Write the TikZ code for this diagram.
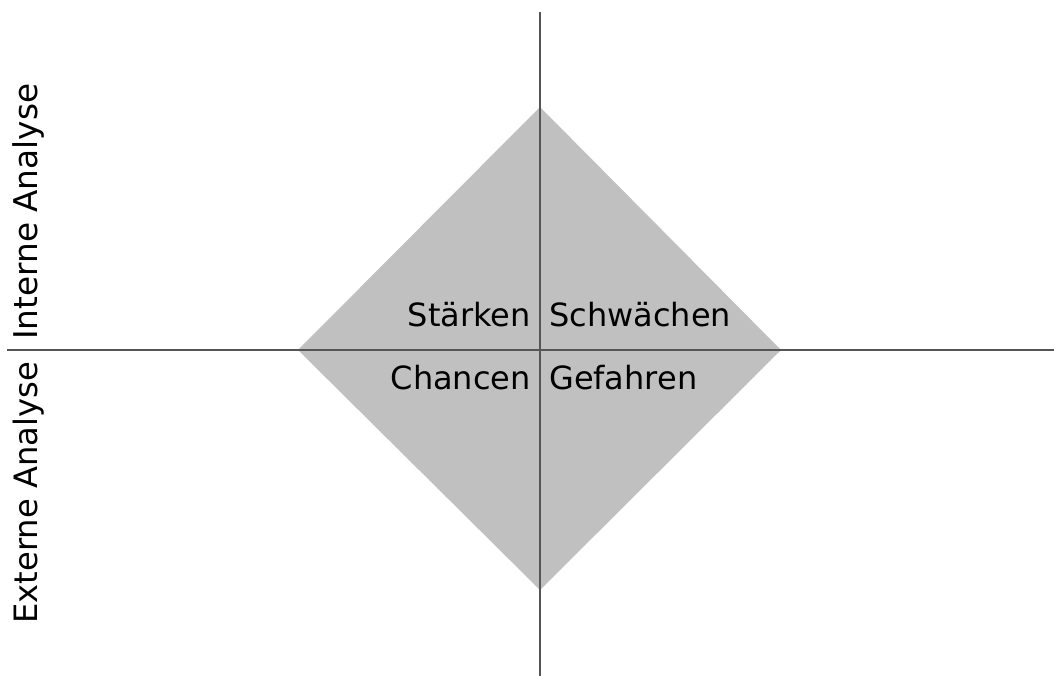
\documentclass[tikz,border=0pt]{standalone}
\usepackage{fontspec}
\setmainfont{DejaVu Sans}
\definecolor{AxisGray}{HTML}{555555}
\definecolor{FieldGray}{HTML}{C0C0C0}
\tikzset{axis/.style={draw=AxisGray,line width=1.2pt},field/.style={fill=FieldGray,draw=none},lbl/.style={inner sep=0pt,font=\fontsize{32}{38}\selectfont},side/.style={inner sep=0pt,font=\fontsize{32.7}{38}\selectfont,rotate=90,anchor=base west}}

\begin{document}
\begin{tikzpicture}[x=1pt,y=-1pt]
\useasboundingbox (0,0) rectangle (1054,676);
\coordinate (top) at (540,107); \coordinate (bottom) at (540,590);
\coordinate (left) at (298,350); \coordinate (right) at (781,350);
\coordinate (vtop) at (540,12); \coordinate (vbot) at (540,676);
\coordinate (hleft) at (7,350); \coordinate (hright) at (1054,350);
\path[field] (top)--(right)--(bottom)--(left)--cycle;
\draw[axis] (vtop)--(vbot); \draw[axis] (hleft)--(hright);
\node[lbl,anchor=base east] (staerken) at (531,326) {Stärken};
\node[lbl,anchor=base west] (schwaechen) at (549,326) {Schwächen};
\node[lbl,anchor=base east] (chancen) at (531,389) {Chancen};
\node[lbl,anchor=base west] (gefahren) at (549,389) {Gefahren};
\node[side] (intern) at (37,340) {Interne Analyse};
\node[side,font=\fontsize{32.2}{38}\selectfont] (extern) at (37,624) {Externe Analyse};
\end{tikzpicture}
\end{document}
